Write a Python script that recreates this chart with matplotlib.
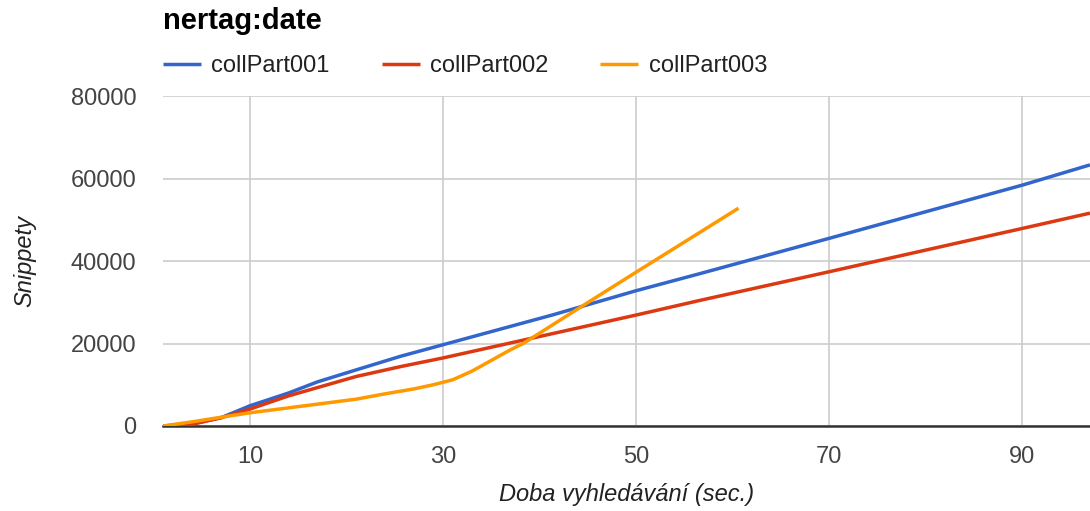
import matplotlib.pyplot as plt
from matplotlib.ticker import FixedLocator

# data
x1 = [1, 4, 7, 10, 14, 17, 21, 25.6, 30, 41.3, 50, 56.7, 70, 90, 97]
y1 = [0, 500, 2000, 4900, 8000, 10700, 13600, 16900, 19700, 26900, 32800, 37000, 45500, 58400, 63300]

x2 = [1, 4, 7, 10, 14, 21, 25.6, 30, 50, 56.7, 70, 90, 97]
y2 = [0, 400, 2000, 4100, 7300, 12000, 14400, 16500, 26900, 30500, 37400, 47900, 51600]

x3 = [1, 4, 7.5, 10, 17, 21, 24, 27, 29, 31, 33, 35, 37, 38.3, 44.3, 50, 55, 60.6]
y3 = [0, 1000, 2300, 3200, 5300, 6500, 7800, 9000, 10000, 11200, 13300, 15900, 18500, 20000, 28900, 37300, 44600, 52800]

names = ['collPart001', 'collPart002', 'collPart003']
colors = ['#3366cc', '#dc3912', '#ff9900']
xticks = [10, 30, 50, 70, 90]
yticks = [0, 20000, 40000, 60000, 80000]

plt.rcParams['font.family'] = ['Liberation Sans', 'DejaVu Sans']

W, H = 1090, 511
fig = plt.figure(figsize=(W/100, H/100), dpi=100)
ax = fig.add_axes([163/W, 1-426/H, 1-163/W, (426-96)/H])

for xs, ys, n, c in zip([x1, x2, x3], [y1, y2, y3], names, colors):
    ax.plot(xs, ys, color=c, lw=2.5, label=n, solid_capstyle='butt', zorder=3)

ax.set_xlim(1, 97)
ax.set_ylim(0, 80000)
ax.xaxis.set_major_locator(FixedLocator(xticks))
ax.yaxis.set_major_locator(FixedLocator(yticks))
ax.grid(True, color='#cccccc', lw=1.2)
ax.set_axisbelow(True)
for s in ['top', 'right', 'left']:
    ax.spines[s].set_visible(False)
ax.spines['bottom'].set_color('#333333')
ax.spines['bottom'].set_linewidth(1.8)
ax.spines['bottom'].set_zorder(2)
ax.tick_params(length=0, labelsize=17, labelcolor='#444444')
ax.tick_params(axis='y', pad=19)
ax.tick_params(axis='x', pad=14.5)

ax.set_xlabel('Doba vyhledávání (sec.)', fontsize=17, style='italic', color='#222222', labelpad=11)
ax.set_ylabel('Snippety', fontsize=17, style='italic', color='#222222', labelpad=25)

fig.text(163/W, 1-21/H, 'nertag:date', fontsize=21, fontweight='bold', va='center', ha='left')

fig.legend(loc='center left', bbox_to_anchor=(163/W, 1-66/H), ncol=3, frameon=False,
           fontsize=17, handlelength=1.6, handletextpad=0.45, columnspacing=2.2,
           borderpad=0, borderaxespad=0, labelcolor='#222222')

fig.savefig('out.png', dpi=100)
